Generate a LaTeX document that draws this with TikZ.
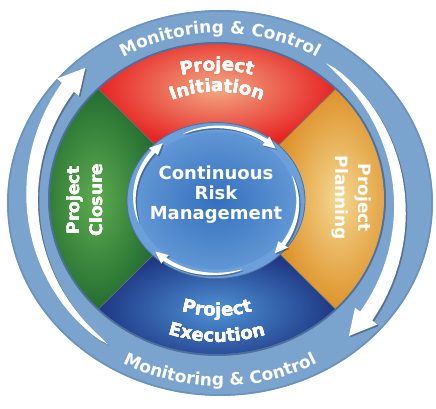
\documentclass[tikz,border=0pt]{standalone}
\usepackage{fontspec}
\newfontfamily\lblfont{DejaVu Sans}
\usepackage{tikz}
\usetikzlibrary{calc}
\usetikzlibrary{decorations,decorations.text}
\definecolor{outerblue}{RGB}{122,163,206}
\definecolor{outeredge}{RGB}{108,146,190}
\definecolor{ringedge}{RGB}{78,112,156}
\definecolor{rimblue}{RGB}{108,160,218}
\definecolor{coreblue}{RGB}{52,112,190}
\definecolor{corelight}{RGB}{96,150,212}
\definecolor{initlight}{RGB}{242,170,130}
\definecolor{initdark}{RGB}{230,36,36}
\definecolor{closelight}{RGB}{92,172,78}
\definecolor{closedark}{RGB}{36,110,50}
\definecolor{execlight}{RGB}{78,146,214}
\definecolor{execdark}{RGB}{30,56,132}
\definecolor{planlight}{RGB}{244,216,146}
\definecolor{plandark}{RGB}{222,146,42}
\tikzstyle{lbl}=[text=white, inner sep=0pt, align=center, font=\lblfont\bfseries\fontsize{17}{23}\selectfont]
\tikzstyle{segline}=[black!55, line width=.6pt]
\tikzstyle{arrowfill}=[fill=white, preaction={fill=black, fill opacity=.3, transform canvas={shift={(1.4,-1.4)}}}]
\newcommand{\arcText}[7]{
	\path[decorate, decoration={text along path, text align=center, text={|\lblfont\bfseries\fontsize{#7}{#7}\selectfont\color{white}|#6}}] ($#1+(#4:#2 and #3)$) arc[start angle=#4, end angle=#5, x radius=#2, y radius=#3];
}
\newcommand{\ringSegment}[4]{
	\shade[inner color=#3, outer color=#4] ($(ring)+(#1:167 and 155)$) arc[start angle=#1, end angle=#2, x radius=167, y radius=155] -- ($(ring)+(#2:84 and 73)$) arc[start angle=#2, end angle=#1, x radius=84, y radius=73] -- cycle;
}
\newcommand{\taperArrow}[8]{
	\begin{scope}[#1]
		\fill[arrowfill] plot[domain=0:1, samples=30] ({#2+(#3-#2)*\x}:{#5+(#6-#5)*\x+#7/2*sqrt(\x)}) -- ({#3}:{#6+#8}) -- ({#4}:{#6}) -- ({#3}:{#6-#8}) -- plot[domain=1:0, samples=30] ({#2+(#3-#2)*\x}:{#5+(#6-#5)*\x-#7/2*sqrt(\x)}) -- cycle;
	\end{scope}
}

\begin{document}
\begin{tikzpicture}[x=1pt, y=1pt]
	\useasboundingbox (0,0) rectangle (436,409);
	\fill[white] (0,0) rectangle (436,409);
	\coordinate (outer) at (220,206);
	\coordinate (ring) at (217,210);
	\coordinate (core) at (216,208.5);
	\fill[outerblue] (outer) ellipse [x radius=213, y radius=193];
	\draw[outeredge, line width=1.5pt] (outer) ellipse [x radius=212, y radius=192];
	\taperArrow{shift={(216,206)}}{232.7}{142}{134}{178}{188}{15}{14}
	\taperArrow{shift={(216,206)}}{51.7}{-37}{-45}{178}{188}{15}{14}
	\arcText{(outer)}{187}{170}{150}{30}{Monitoring {\&} Control}{17}
	\arcText{(outer)}{201}{183}{210}{330}{Monitoring {\&} Control}{17}
	\fill[ringedge] (ring) ellipse [x radius=169, y radius=157];
	\ringSegment{45}{135}{initlight}{initdark}
	\ringSegment{135}{225}{closelight}{closedark}
	\ringSegment{225}{315}{execlight}{execdark}
	\ringSegment{-45}{45}{planlight}{plandark}
	\foreach \a in {45,135,225,315}
		\draw[segline] ($(ring)+(\a:84 and 73)$) -- ($(ring)+(\a:167 and 155)$);
	\fill[rimblue] (core) ellipse [x radius=89, y radius=78];
	\draw[ringedge, line width=.8pt] (core) ellipse [x radius=89, y radius=78];
	\shade[inner color=coreblue, outer color=corelight] (core) ellipse [x radius=80, y radius=69];
	\foreach \t/\b in {114/53, 20/-36, -71/-128, 197/139}
		\taperArrow{shift={(core)}, yscale=.9}{\t}{\b}{\b-9}{81}{83}{4.5}{6}
	\arcText{(ring)}{138}{128}{160}{20}{Project}{18}
	\arcText{(ring)}{115}{107}{165}{15}{Initiation}{18}
	\arcText{(ring)}{126}{117}{200}{340}{Project}{18}
	\arcText{(ring)}{154}{143}{195}{345}{Execution}{18}
	\node[lbl, rotate=90] (closure) at (85,209) {Project\\Closure};
	\node[lbl, rotate=-90] (planning) at (352,211) {Project\\Planning};
	\node[lbl, font=\lblfont\bfseries\fontsize{18}{20}\selectfont] (crm) at (216,214) {Continuous\\Risk\\Management};
\end{tikzpicture}
\end{document}
